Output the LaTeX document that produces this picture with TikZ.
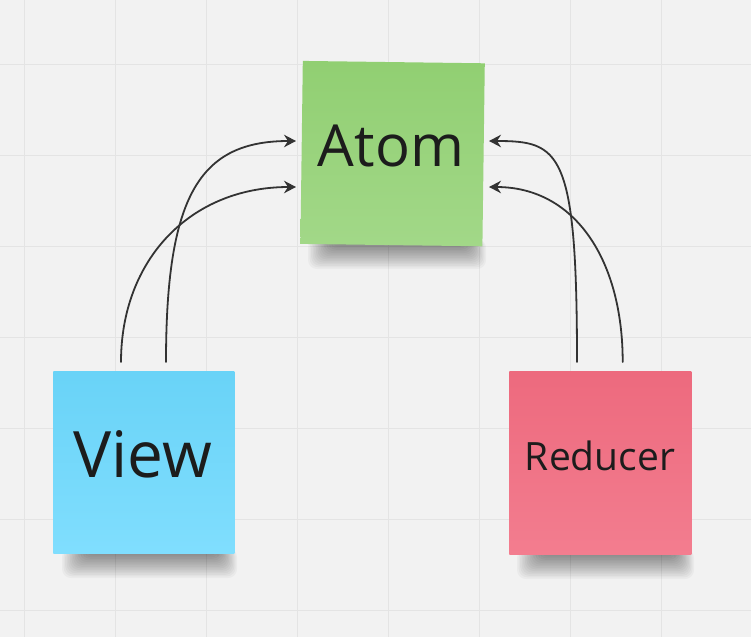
\documentclass[tikz,border=0pt]{standalone}
\usepackage{fontspec}
\newfontfamily\osans{Open Sans}
\usetikzlibrary{arrows.meta}
\definecolor{bgcol}{HTML}{F2F2F2}
\definecolor{gridcol}{HTML}{E4E4E4}
\definecolor{ink}{HTML}{333333}
\definecolor{txt}{HTML}{1C1C1C}
\definecolor{greentop}{HTML}{91CF72}
\definecolor{greenbot}{HTML}{A2D888}
\definecolor{bluetop}{HTML}{69D3F7}
\definecolor{bluebot}{HTML}{80DEFE}
\definecolor{redtop}{HTML}{ED6A7E}
\definecolor{redbot}{HTML}{F37D8F}
\newcommand\stickshadow[3]{%
  \foreach \k in {0,...,15}{%
    \fill[black,opacity=0.03,rounded corners=9pt]
      ({#1+8+\k*1.6},{#3-6}) rectangle ({#2+2-\k*1.3},{#3+24-\k*1.6});
  }%
}
\begin{document}
\begin{tikzpicture}[x=1pt,y=-1pt,
  sticky/.style={minimum width=182pt,minimum height=183pt,inner sep=0pt,outer sep=0pt},
  stickytext/.style={anchor=base,inner sep=0pt,text=txt},
  gridline/.style={draw=gridcol,line width=1pt},
  link/.style={draw=ink,line width=1.8pt,line cap=round,
    -{Stealth[length=12pt,width=12.5pt,inset=4pt]}}
]
\useasboundingbox (0,0) rectangle (751,637);
\fill[bgcol] (0,0) rectangle (751,637);
\foreach \x in {24,115,206,297,388,479,570,661}
  \draw[gridline] (\x,0) -- (\x,637);
\foreach \y in {64.5,155.5,246.5,337.5,428.5,519.5,610.5}
  \draw[gridline] (0,\y) -- (751,\y);

% shadows
\stickshadow{300}{484}{245}
\stickshadow{54}{235}{554}
\stickshadow{509}{692}{555}

% sticky notes
\node[sticky,top color=greentop,bottom color=greenbot,rotate=-0.75] (atom) at (392.6,153.6) {};
\node[sticky,minimum width=181pt,minimum height=182pt,top color=bluetop,bottom color=bluebot] (view) at (143.8,462.8) {};
\node[sticky,top color=redtop,bottom color=redbot] (reducer) at (600.4,463.4) {};

% labels
\node[stickytext,font=\osans\fontsize{58}{60}\selectfont] (atomtext) at (391,166.7) {Atom};
\node[stickytext,font=\osans\fontsize{64}{66}\selectfont] (viewtext) at (143,477.7) {View};
\node[stickytext,font=\osans\fontsize{39}{41}\selectfont] (reducertext) at (600,470.7) {Reducer};

% connector ends
\coordinate (vA) at (121,362);
\coordinate (vB) at (166,362);
\coordinate (rA) at (577,362);
\coordinate (rB) at (622.7,362);
\coordinate (aL1) at (296,141);
\coordinate (aL2) at (296,187);
\coordinate (aR1) at (489,141);
\coordinate (aR2) at (489,187);

% connectors
\draw[link] (vB) .. controls (166,195) and (200,141) .. (aL1);
\draw[link] (vA) .. controls (121,260) and (190,187) .. (aL2);
\draw[link] (rA) .. controls (577,150) and (560,141) .. (aR1);
\draw[link] (rB) .. controls (622.7,260) and (575,187) .. (aR2);
\end{tikzpicture}
\end{document}
